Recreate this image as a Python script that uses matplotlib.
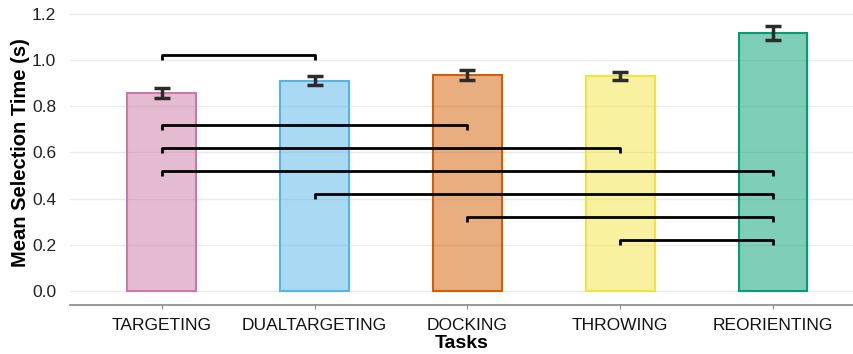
import matplotlib
matplotlib.use("Agg")
import matplotlib.pyplot as plt
import numpy as np

plt.rcParams['font.family'] = ['Liberation Sans', 'DejaVu Sans']

tasks = ["TARGETING", "DUALTARGETING", "DOCKING", "THROWING", "REORIENTING"]
means = [0.857, 0.910, 0.935, 0.930, 1.118]
errors = [0.020, 0.020, 0.022, 0.016, 0.030]
colors = ["#CC79A7", "#56B4E9", "#D55E00", "#F0E442", "#009E73"]

# significance brackets: (from index, to index, height)
brackets_from = [0, 0, 0, 0, 1, 2, 3]
brackets_to = [1, 2, 3, 4, 4, 4, 4]
brackets_y = [1.02, 0.72, 0.62, 0.52, 0.42, 0.32, 0.22]

fig = plt.figure(figsize=(8.54, 3.54), dpi=100)
ax = fig.add_axes([70/854, 49/354, 784/854, 305/354])

x = np.arange(len(tasks))
for i in range(len(tasks)):
    ax.bar(x[i], means[i], width=0.45, color=colors[i], alpha=0.5, zorder=2)
    ax.bar(x[i], means[i], width=0.45, facecolor='none', edgecolor=colors[i],
           linewidth=1.5, zorder=3)
ax.errorbar(x, means, yerr=errors, fmt='none', ecolor='#2b2b2b', elinewidth=2.5,
            capsize=5.5, capthick=2.5, zorder=4)

drop = 0.022
for a, b, h in zip(brackets_from, brackets_to, brackets_y):
    ax.plot([x[a], x[a], x[b], x[b]], [h - drop, h, h, h - drop], color='black',
            linewidth=2, solid_capstyle='butt', zorder=5)

ax.set_xlim(-0.6, 4.53)
ax.set_ylim(-0.061, 1.26)
ax.set_yticks([0.0, 0.2, 0.4, 0.6, 0.8, 1.0, 1.2])
ax.set_yticklabels(["0.0", "0.2", "0.4", "0.6", "0.8", "1.0", "1.2"])
ax.set_xticks(x)
ax.set_xticklabels(tasks)
ax.grid(axis='y', color='#ebebeb', linewidth=1, zorder=0)
ax.set_axisbelow(True)
for s in ['top', 'right', 'left']:
    ax.spines[s].set_visible(False)
ax.spines['bottom'].set_color('#888888')
ax.spines['bottom'].set_linewidth(1.2)
ax.tick_params(axis='y', length=0, labelsize=12.5, colors='#222222', pad=10)
ax.tick_params(axis='x', length=3, color='#888888', labelsize=12.5, labelcolor='#111111', pad=6)
ax.set_xlabel("Tasks", fontsize=14, fontweight='bold', labelpad=1.5)
ax.set_ylabel("Mean Selection Time (s)", fontsize=14.5, fontweight='bold', labelpad=1)

fig.savefig("out.png", dpi=100)
